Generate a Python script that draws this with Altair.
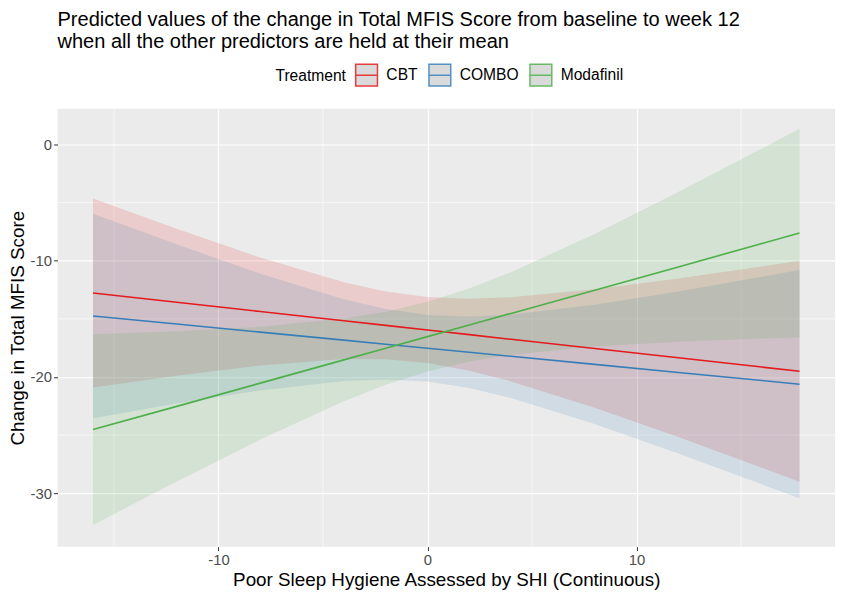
import altair as alt
import pandas as pd

x_vals = [-16, -12, -8, -4, -2, 0, 2, 4, 8, 12, 16, 17.8]

cbt_pred = [-12.77, -13.57, -14.37, -15.16, -15.56, -15.96, -16.36, -16.76, -17.55, -18.35, -19.15, -19.51]
cbt_lo = [-20.90, -19.89, -19.01, -18.46, -18.48, -18.80, -19.46, -20.38, -22.64, -25.17, -27.81, -29.01]
cbt_hi = [-4.64, -7.25, -9.73, -11.86, -12.64, -13.12, -13.26, -13.14, -12.46, -11.53, -10.49, -10.01]

combo_pred = [-14.75, -15.44, -16.14, -16.83, -17.18, -17.53, -17.88, -18.22, -18.92, -19.61, -20.31, -20.62]
combo_lo = [-23.55, -22.29, -21.16, -20.34, -20.21, -20.39, -20.95, -21.81, -24.05, -26.58, -29.24, -30.44]
combo_hi = [-5.95, -8.59, -11.12, -13.32, -14.15, -14.67, -14.81, -14.63, -13.79, -12.64, -11.38, -10.80]

moda_pred = [-24.53, -22.53, -20.53, -18.53, -17.53, -16.53, -15.53, -14.53, -12.53, -10.53, -8.52, -7.62]
moda_lo = [-32.73, -28.99, -25.39, -22.09, -20.68, -19.53, -18.67, -18.08, -17.37, -16.97, -16.70, -16.60]
moda_hi = [-16.33, -16.07, -15.67, -14.97, -14.38, -13.53, -12.39, -10.98, -7.69, -4.09, -0.34, 1.36]

treatments = ["CBT", "COMBO", "Modafinil"]
colors = ["#E41A1C", "#377EB8", "#4DAF4A"]

x_minor = [-15, -5, 5, 15]
y_minor = [-25, -15, -5]

rows = []
for name, p, lo, hi in [("CBT", cbt_pred, cbt_lo, cbt_hi),
                        ("COMBO", combo_pred, combo_lo, combo_hi),
                        ("Modafinil", moda_pred, moda_lo, moda_hi)]:
    for xv, pv, l, h in zip(x_vals, p, lo, hi):
        rows.append({"x": xv, "Treatment": name, "Band": name, "pred": pv, "lo": l, "hi": h})
df = pd.DataFrame(rows)

FONT = "Liberation Sans"
xscale = alt.Scale(domain=[-17.7, 19.5], nice=False, zero=False)
yscale = alt.Scale(domain=[-34.6, 3.07], nice=False, zero=False)
LABEL_EXPR = "datum.value < 0 ? '-' + abs(datum.value) : '' + datum.value"

base = alt.Chart(df)

xminor = alt.Chart(pd.DataFrame({"v": x_minor})).mark_rule(color="white", strokeWidth=0.6).encode(
    x=alt.X("v:Q", scale=xscale))
yminor = alt.Chart(pd.DataFrame({"v": y_minor})).mark_rule(color="white", strokeWidth=0.6).encode(
    y=alt.Y("v:Q", scale=yscale))

band = base.mark_area(fillOpacity=0.15).encode(
    x=alt.X("x:Q", scale=xscale,
            axis=alt.Axis(title="Poor Sleep Hygiene Assessed by SHI (Continuous)", values=[-10, 0, 10],
                          labelExpr=LABEL_EXPR)),
    y=alt.Y("lo:Q", scale=yscale,
            axis=alt.Axis(title="Change in Total MFIS Score", values=[0, -10, -20, -30],
                          labelExpr=LABEL_EXPR)),
    y2="hi:Q",
    fill=alt.Fill("Band:N", scale=alt.Scale(domain=treatments, range=colors), legend=None),
)

line = base.mark_line(strokeWidth=1.6).encode(
    x=alt.X("x:Q", scale=xscale),
    y=alt.Y("pred:Q", scale=yscale),
    stroke=alt.Stroke("Treatment:N", scale=alt.Scale(domain=treatments, range=colors), legend=alt.Legend(
        title="Treatment", orient="none", direction="horizontal", titleOrient="left",
        legendX=220, legendY=-46,
        symbolType="M-1,-1H1V1H-1Z M-1,0H1", symbolSize=484, symbolStrokeWidth=1.5,
        symbolFillColor="#D4D4D4", symbolOpacity=0.85,
    )),
)

chart = alt.layer(xminor, yminor, band, line).resolve_scale(fill="independent", stroke="independent").properties(
    width=785, height=442,
    autosize=alt.AutoSizeParams(type="none"),
    padding={"left": 50, "top": 99, "right": 7, "bottom": 45},
    title=alt.Title(
        text=["Predicted values of the change in Total MFIS Score from baseline to week 12",
              "when all the other predictors are held at their mean"],
        anchor="start", frame="group", fontSize=20.2, fontWeight="normal", font=FONT,
        color="black", lineHeight=22, offset=11),
).configure_view(fill="#EBEBEB", stroke=None).configure_axis(
    grid=True, gridColor="white", gridWidth=1.2, domain=False,
    tickColor="#333333", tickSize=4, tickWidth=1,
    labelColor="#4D4D4D", labelFontSize=15, labelFont=FONT, labelPadding=2,
    titleColor="black", titleFontSize=19, titleFont=FONT, titleFontWeight="normal",
).configure_axisY(titlePadding=3).configure_axisX(titlePadding=3).configure_legend(
    labelFont=FONT, labelFontSize=15.75, titleFont=FONT, titleFontSize=15.75,
    titleFontWeight="normal", titleColor="black", labelColor="black",
    columnPadding=8, labelOffset=8, titlePadding=8,
)

chart.save("out.html", embed_options={"renderer": "svg", "actions": False})
